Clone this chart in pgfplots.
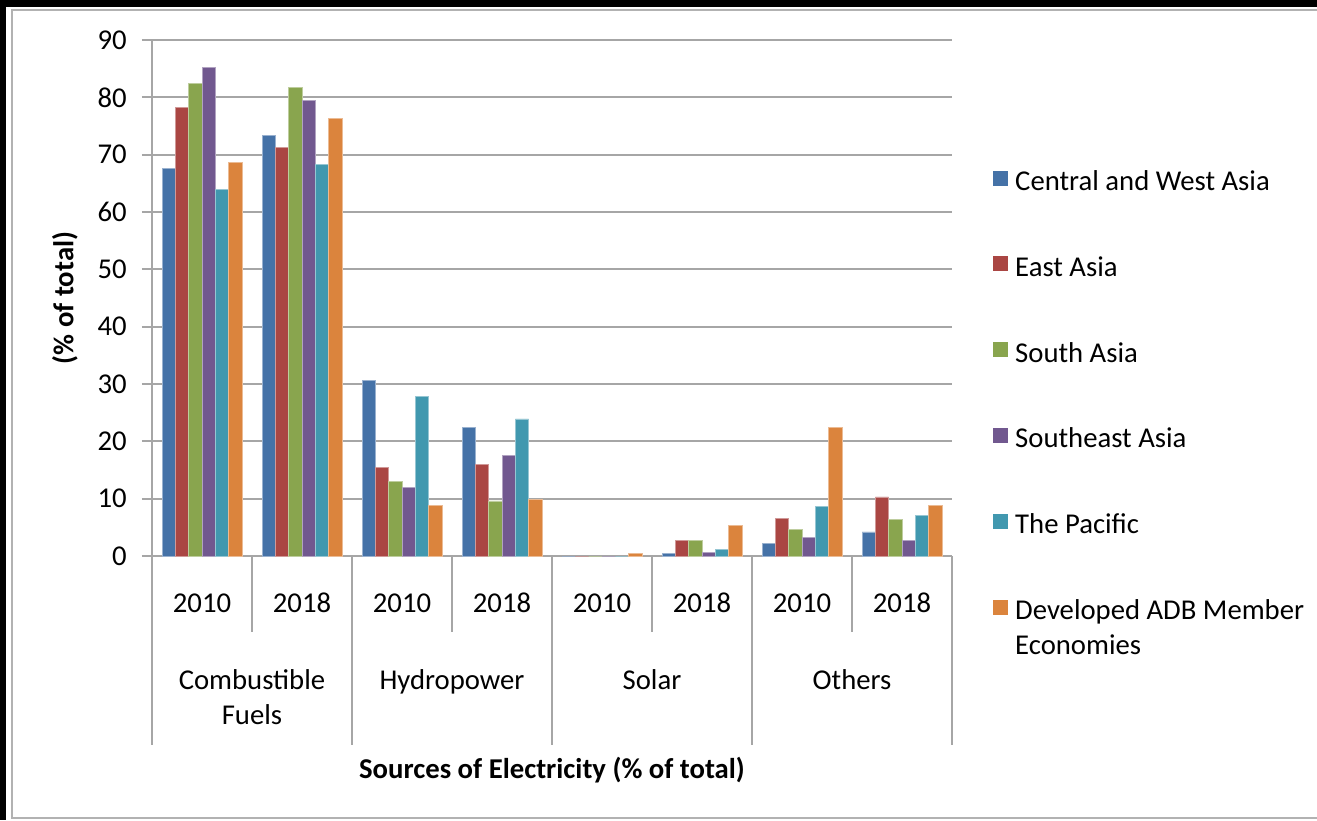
\documentclass[border=0pt]{standalone}
\usepackage{pgfplots}
\pgfplotsset{compat=1.18}
\usepackage{fontspec}
\setmainfont{Carlito}
\definecolor{c1}{HTML}{4572A7}
\definecolor{c2}{HTML}{AA4643}
\definecolor{c3}{HTML}{89A54E}
\definecolor{c4}{HTML}{71588F}
\definecolor{c5}{HTML}{4198AF}
\definecolor{c6}{HTML}{DB843D}
\definecolor{gridgray}{HTML}{A6A6A6}
\pgfplotsset{
  mybar/.style 2 args={fill=#1, draw=#1!55!white, line width=0.4pt, bar width=0.1333, bar shift=#2,
    legend image code/.code={\fill[#1] (0pt,-1pt) rectangle (7pt,6pt);}},
}
\begin{document}
\begin{tikzpicture}[font=\fontsize{14.35}{17.5}\selectfont]
\fill[black] (-76pt,-132pt) rectangle (582.5pt,278pt);
\fill[white] (-73pt,-132pt) rectangle (582.5pt,274.5pt);
\draw[gray!60, line width=0.75pt] (582.5pt,273pt) -- (-70pt,273pt) -- (-70pt,-131pt) -- (582.5pt,-131pt);
\begin{axis}[
  at={(0,0)}, anchor=south west, scale only axis, width=400pt, height=258pt,
  xmin=-0.5, xmax=7.5, ymin=0, ymax=90,
  ybar=0pt, clip=false,
  ytick={0,10,...,90}, xtick={0,...,7},
  xticklabels={2010,2018,2010,2018,2010,2018,2010,2018},
  ymajorgrids, grid style={gridgray, line width=1pt},
  axis x line*=bottom, axis y line*=left,
  axis line style={gridgray, line width=1pt, -},
  tick align=outside, major tick length=5pt,
  ytick style={gridgray, line width=1pt}, xtick style={draw=none},
  yticklabel style={anchor=east, inner sep=0pt, xshift=-7.5pt},
  xticklabel style={anchor=base, inner sep=0pt, yshift=-23pt},
  /pgf/number format/assume math mode=true,
  ylabel={\bfseries (\% of total)},
  every axis y label/.style={at={(axis description cs:-0.10875,0.5)}, anchor=center, rotate=90},
  xlabel={\bfseries Sources of Electricity (\% of total)},
  every axis x label/.style={at={(axis description cs:0.5,-0.4147)}, anchor=center},
  legend style={at={(1.05125,0.750)}, anchor=north west, draw=none, fill=none, inner sep=0pt,
    /tikz/row sep=29.4pt, /tikz/column sep=3.5pt,
    nodes={inner sep=0pt, text height=10.5pt, text depth=3pt}},
  legend cell align=left,
]
\addplot[mybar={c1}{-0.3333}] coordinates {(0,67.6) (1,73.3) (2,30.6) (3,22.4) (4,0) (5,0.4) (6,2.2) (7,4.2)};
\addplot[mybar={c2}{-0.2}] coordinates {(0,78.2) (1,71.3) (2,15.5) (3,16.0) (4,0) (5,2.7) (6,6.6) (7,10.3)};
\addplot[mybar={c3}{-0.0667}] coordinates {(0,82.5) (1,81.7) (2,13.0) (3,9.6) (4,0) (5,2.7) (6,4.6) (7,6.4)};
\addplot[mybar={c4}{0.0667}] coordinates {(0,85.2) (1,79.5) (2,12.0) (3,17.5) (4,0) (5,0.6) (6,3.2) (7,2.7)};
\addplot[mybar={c5}{0.2}] coordinates {(0,64.0) (1,68.3) (2,27.9) (3,23.9) (4,0) (5,1.2) (6,8.6) (7,7.1)};
\addplot[mybar={c6}{0.3333}] coordinates {(0,68.6) (1,76.3) (2,8.8) (3,9.9) (4,0.4) (5,5.3) (6,22.4) (7,8.8)};
\addlegendentry{Central and West Asia}
\addlegendentry{East Asia}
\addlegendentry{South Asia}
\addlegendentry{Southeast Asia}
\addlegendentry{The Pacific}
\addlegendentry{\begin{tabular}[t]{@{}l@{}}Developed ADB Member\\Economies\end{tabular}}
\draw[gridgray, line width=1pt] (axis cs:0.5,0) -- ++(0pt,-38pt);
\draw[gridgray, line width=1pt] (axis cs:2.5,0) -- ++(0pt,-38pt);
\draw[gridgray, line width=1pt] (axis cs:4.5,0) -- ++(0pt,-38pt);
\draw[gridgray, line width=1pt] (axis cs:6.5,0) -- ++(0pt,-38pt);
\draw[gridgray, line width=1pt] (axis cs:-0.5,0) -- ++(0pt,-94.5pt);
\draw[gridgray, line width=1pt] (axis cs:1.5,0) -- ++(0pt,-94.5pt);
\draw[gridgray, line width=1pt] (axis cs:3.5,0) -- ++(0pt,-94.5pt);
\draw[gridgray, line width=1pt] (axis cs:5.5,0) -- ++(0pt,-94.5pt);
\draw[gridgray, line width=1pt] (axis cs:7.5,0) -- ++(0pt,-94.5pt);
\node[anchor=base] at ([yshift=-66.5pt]axis cs:0.5,0) {Combustible};
\node[anchor=base] at ([yshift=-84pt]axis cs:0.5,0) {Fuels};
\node[anchor=base] at ([yshift=-66.5pt]axis cs:2.5,0) {Hydropower};
\node[anchor=base] at ([yshift=-66.5pt]axis cs:4.5,0) {Solar};
\node[anchor=base] at ([yshift=-66.5pt]axis cs:6.5,0) {Others};
\end{axis}
\pgfresetboundingbox
\path[use as bounding box] (-76pt,-132pt) rectangle (582.5pt,278pt);
\end{tikzpicture}
\end{document}
